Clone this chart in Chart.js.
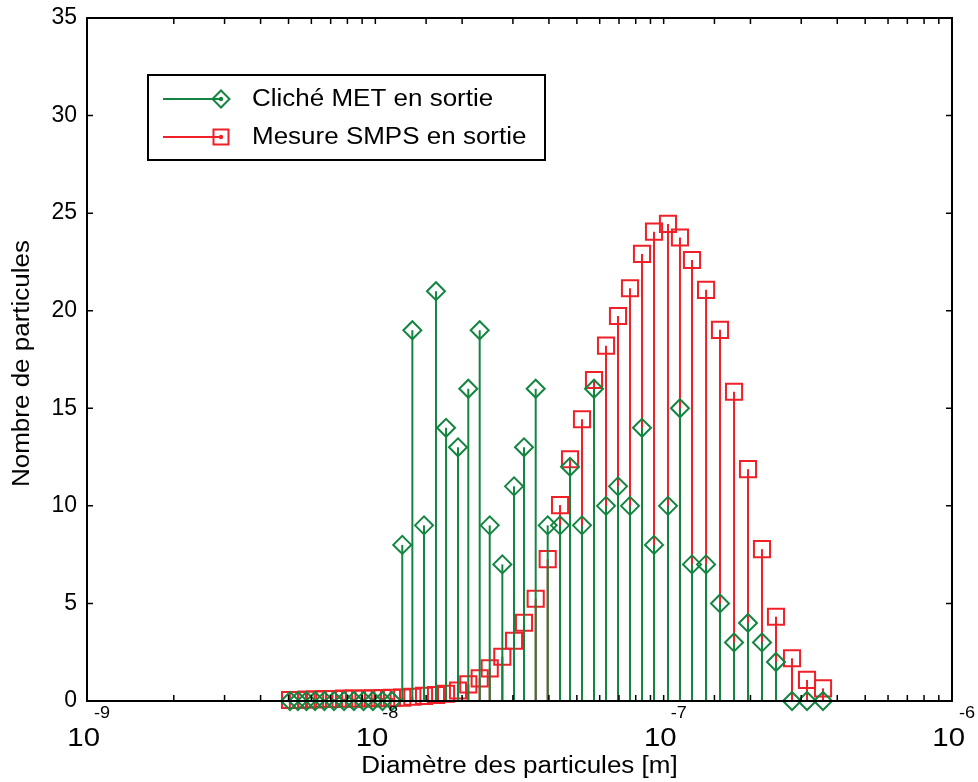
<!DOCTYPE html>
<html>
<head>
<meta charset="utf-8">
<script src="https://cdn.jsdelivr.net/npm/chart.js@4.4.1/dist/chart.umd.min.js"></script>
<style>
  html, body { margin: 0; padding: 0; background: #ffffff; }
  #wrap { width: 978px; height: 782px; }
</style>
</head>
<body>
<div id="wrap"><canvas id="chart" width="978" height="782"></canvas></div>
<script>
// Particle diameters of the size channels, in nanometres
const diametersNm = [5.06, 5.39, 5.77, 6.18, 6.66, 7.19, 7.79, 8.43, 9.10, 9.81, 10.59, 11.42,
  12.40, 13.44, 14.75, 16.23, 17.59, 19.35, 21.01, 23.01, 24.93, 27.57, 30.27, 32.78, 35.99,
  39.61, 43.71, 47.34, 52.09, 57.33, 63.10, 69.44, 76.42, 84.11, 92.58, 103.5, 113.9, 125.4,
  140.3, 156.8, 175.4, 196.1, 219.3, 245.2, 278.7, 314.2, 357.0];

// Particle counts from TEM images (outlet)
const metCounts = [0, 0, 0, 0, 0, 0, 0, 0, 0, 0, 0, 0,
  8, 19, 9, 21, 14, 13, 16, 19, 9, 7, 11, 13, 16, 9, 9,
  12, 9, 16, 10, 11, 10, 14, 8, 10, 15, 7, 7, 5, 3, 4, 3, 2, 0, 0, 0];

// Particle counts from the SMPS measurement (outlet)
const smpsCounts = [0.05, 0.05, 0.08, 0.08, 0.10, 0.10, 0.12, 0.12, 0.13, 0.14, 0.15, 0.16,
  0.17, 0.22, 0.26, 0.31, 0.37, 0.54, 0.85, 1.16, 1.67, 2.27, 3.09, 4.01, 5.24, 7.27, 10.04,
  12.39, 14.44, 16.45, 18.21, 19.73, 21.15, 22.91, 24.05, 24.45, 23.75, 22.6, 21.07, 19.02,
  15.85, 11.88, 7.78, 4.32, 2.19, 1.08, 0.65];

// Axis settings
const xDecadeExponents = [-9, -8, -7, -6];
const yTickStep = 5;
const yMax = 35;

const seriesNames = ['Cliché MET en sortie', 'Mesure SMPS en sortie'];
const axisTitles = { x: 'Diamètre des particules [m]', y: 'Nombre de particules' };

const GREEN = '#138541';
const RED = '#ef2027';
const FONT = '"Liberation Sans", Arial, Helvetica, sans-serif';
const STRETCH = 1.13;

function toPoints(values) {
  return diametersNm.map((d, i) => ({ x: d * 1e-9, y: values[i] }));
}

// Vertical stems from the zero baseline to each marker, drawn just before each dataset
const stemPlugin = {
  id: 'stems',
  beforeDatasetDraw(chart, args) {
    const ctx = chart.ctx;
    const ds = chart.data.datasets[args.index];
    const y0 = chart.scales.y.getPixelForValue(0);
    ctx.save();
    ctx.strokeStyle = ds.borderColor;
    ctx.lineWidth = 2;
    args.meta.data.forEach(pt => {
      ctx.beginPath();
      ctx.moveTo(pt.x, y0);
      ctx.lineTo(pt.x, pt.y);
      ctx.stroke();
    });
    ctx.restore();
  }
};

// Text with slightly widened glyphs; rot rotates the baseline (radians)
function stretchedText(ctx, text, x, y, size, align, baseline, rot) {
  ctx.save();
  ctx.font = size + 'px ' + FONT;
  ctx.textAlign = align;
  ctx.textBaseline = baseline;
  ctx.translate(x, y);
  if (rot) ctx.rotate(rot);
  ctx.scale(STRETCH, 1);
  ctx.fillText(text, 0, 0);
  ctx.restore();
}

// Box frame, inward tick marks, decade labels, axis titles and legend
const framePlugin = {
  id: 'frame',
  afterDatasetsDraw(chart) {
    const { ctx, chartArea: a, scales } = chart;
    const xs = scales.x, ys = scales.y;
    const tick = 6;
    ctx.save();
    ctx.strokeStyle = '#000';
    ctx.lineWidth = 2;
    ctx.lineCap = 'square';
    ctx.strokeRect(a.left, a.top, a.right - a.left, a.bottom - a.top);

    ctx.lineWidth = 1.5;
    ctx.lineCap = 'butt';
    xs.ticks.forEach(t => {
      const px = xs.getPixelForValue(t.value);
      if (px <= a.left + 1 || px >= a.right - 1) return;
      ctx.beginPath();
      ctx.moveTo(px, a.bottom); ctx.lineTo(px, a.bottom - tick);
      ctx.moveTo(px, a.top); ctx.lineTo(px, a.top + tick);
      ctx.stroke();
    });
    for (let v = yTickStep; v < yMax; v += yTickStep) {
      const py = ys.getPixelForValue(v);
      ctx.beginPath();
      ctx.moveTo(a.left, py); ctx.lineTo(a.left + tick, py);
      ctx.moveTo(a.right, py); ctx.lineTo(a.right - tick, py);
      ctx.stroke();
    }

    // decade labels 10^n
    ctx.fillStyle = '#000';
    xDecadeExponents.forEach(e => {
      const px = xs.getPixelForValue(Math.pow(10, e));
      stretchedText(ctx, '10', px + 13, a.bottom + 45, 26, 'right', 'alphabetic');
      stretchedText(ctx, '-' + Math.abs(e), px + 7, a.bottom + 17, 16, 'left', 'alphabetic');
    });

    // axis titles
    stretchedText(ctx, axisTitles.x, (a.left + a.right) / 2, a.bottom + 66, 23, 'center', 'middle');
    stretchedText(ctx, axisTitles.y, 23, (a.top + a.bottom) / 2 + 4, 23, 'center', 'middle', -Math.PI / 2);

    // legend
    const bx = 148, by = 75, bw = 397, bh = 85;
    ctx.fillStyle = '#fff';
    ctx.fillRect(bx, by, bw, bh);
    ctx.strokeStyle = '#000';
    ctx.lineWidth = 2;
    ctx.strokeRect(bx, by, bw, bh);
    const rows = [
      { y: 99, color: GREEN, shape: 'diamond' },
      { y: 137, color: RED, shape: 'square' }
    ];
    rows.forEach((r, i) => {
      const mx = 221;
      ctx.strokeStyle = r.color;
      ctx.fillStyle = r.color;
      ctx.lineWidth = 2;
      ctx.beginPath();
      ctx.moveTo(163, r.y); ctx.lineTo(mx, r.y);
      ctx.stroke();
      ctx.beginPath();
      if (r.shape === 'diamond') {
        const s = 8.5;
        ctx.moveTo(mx - s, r.y); ctx.lineTo(mx, r.y - s);
        ctx.lineTo(mx + s, r.y); ctx.lineTo(mx, r.y + s);
        ctx.closePath();
      } else {
        const s = 7.5;
        ctx.rect(mx - s, r.y - s, 2 * s, 2 * s);
      }
      ctx.stroke();
      ctx.beginPath();
      ctx.arc(mx, r.y, 2.2, 0, Math.PI * 2);
      ctx.fill();
      ctx.fillStyle = '#000';
      stretchedText(ctx, seriesNames[i], 252, r.y + 1, 23, 'left', 'middle');
    });
    ctx.restore();
  }
};

new Chart(document.getElementById('chart'), {
  type: 'scatter',
  data: {
    datasets: [
      {
        label: seriesNames[0],
        data: toPoints(metCounts),
        borderColor: GREEN,
        backgroundColor: 'rgba(0,0,0,0)',
        pointStyle: 'rectRot',
        pointRadius: 9,
        pointBorderWidth: 2,
        showLine: false,
        clip: false
      },
      {
        label: seriesNames[1],
        data: toPoints(smpsCounts),
        borderColor: RED,
        backgroundColor: 'rgba(0,0,0,0)',
        pointStyle: 'rect',
        pointRadius: 11.4,
        pointBorderWidth: 2,
        showLine: false,
        clip: false
      }
    ]
  },
  options: {
    responsive: false,
    animation: false,
    events: [],
    layout: { padding: { top: 18, right: 26, left: 0, bottom: 0 } },
    plugins: { legend: { display: false }, tooltip: { enabled: false } },
    scales: {
      x: {
        type: 'logarithmic',
        min: 1e-9,
        max: 1e-6,
        grid: { display: false },
        border: { display: false },
        ticks: { display: false },
        afterFit(scale) {
          scale.height = 81;
          scale.paddingLeft = 0;
          scale.paddingRight = 0;
        }
      },
      y: {
        min: 0,
        max: yMax,
        grid: { display: false, drawTicks: false },
        border: { display: false },
        ticks: {
          stepSize: yTickStep,
          autoSkip: false,
          padding: 10,
          color: '#000',
          font: { size: 23, family: FONT }
        },
        afterFit(scale) {
          scale.width = 87;
          scale.paddingTop = 0;
          scale.paddingBottom = 0;
        }
      }
    }
  },
  plugins: [stemPlugin, framePlugin]
});
</script>
</body>
</html>
